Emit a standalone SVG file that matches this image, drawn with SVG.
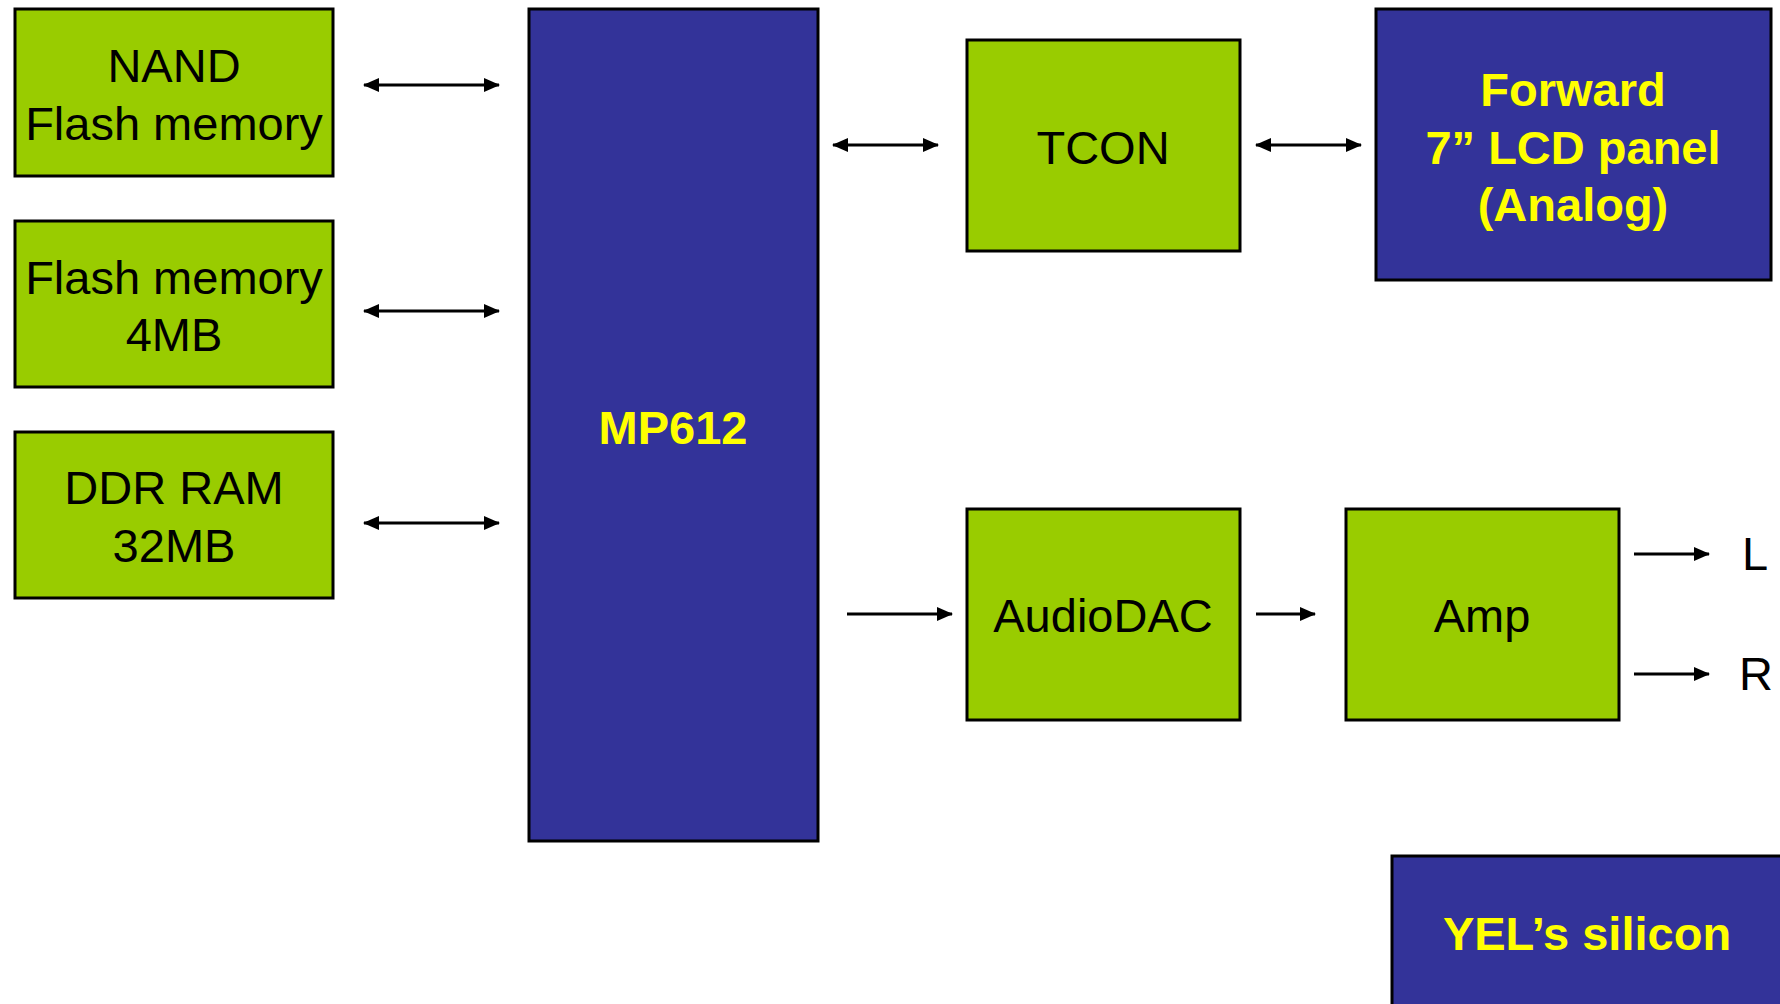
<svg xmlns="http://www.w3.org/2000/svg" width="1780" height="1004" viewBox="0 0 1780 1004">
<style>
.g{fill:#99CC00;stroke:#000;stroke-width:3}
.b{fill:#333399;stroke:#000;stroke-width:3}
.t{font-family:"Liberation Sans",Arial,sans-serif;font-size:47px;fill:#000;text-anchor:middle}
.y{font-family:"Liberation Sans",Arial,sans-serif;font-size:47px;font-weight:bold;fill:#FFFF00;text-anchor:middle}
.c{stroke:#000;stroke-width:3;fill:none}
</style>
<defs>
<marker id="ae" markerUnits="userSpaceOnUse" markerWidth="16" markerHeight="14" refX="15" refY="7" orient="auto"><path d="M0,0 L16,7 L0,14 Z" fill="#000"/></marker>
<marker id="as" markerUnits="userSpaceOnUse" markerWidth="16" markerHeight="14" refX="1" refY="7" orient="auto"><path d="M16,0 L0,7 L16,14 Z" fill="#000"/></marker>
</defs>
<rect width="1780" height="1004" fill="#fff"/>
<g id="nand"><rect class="g" x="15" y="9" width="318" height="167"/><text class="t" x="174" y="82">NAND</text><text class="t" x="174" y="140">Flash memory</text></g>
<g id="flash"><rect class="g" x="15" y="221" width="318" height="166"/><text class="t" x="174" y="294">Flash memory</text><text class="t" x="174" y="351">4MB</text></g>
<g id="ddr"><rect class="g" x="15" y="432" width="318" height="166"/><text class="t" x="174" y="504">DDR RAM</text><text class="t" x="174" y="562">32MB</text></g>
<g id="mp612"><rect class="b" x="529" y="9" width="289" height="832"/><text class="y" x="673" y="444">MP612</text></g>
<g id="tcon"><rect class="g" x="967" y="40" width="273" height="211"/><text class="t" x="1103" y="164">TCON</text></g>
<g id="lcd"><rect class="b" x="1376" y="9" width="395" height="271"/><text class="y" x="1573" y="106">Forward</text><text class="y" x="1573" y="164">7” LCD panel</text><text class="y" x="1573" y="221">(Analog)</text></g>
<g id="dac"><rect class="g" x="967" y="509" width="273" height="211"/><text class="t" x="1103" y="632">AudioDAC</text></g>
<g id="amp"><rect class="g" x="1346" y="509" width="273" height="211"/><text class="t" x="1482" y="632">Amp</text></g>
<g id="yel"><rect class="b" x="1392" y="856" width="400" height="160"/><text class="y" x="1587" y="950">YEL’s silicon</text></g>
<g id="connectors">
<line class="c" x1="364" y1="85" x2="499" y2="85" marker-start="url(#as)" marker-end="url(#ae)"/>
<line class="c" x1="364" y1="311" x2="499" y2="311" marker-start="url(#as)" marker-end="url(#ae)"/>
<line class="c" x1="364" y1="523" x2="499" y2="523" marker-start="url(#as)" marker-end="url(#ae)"/>
<line class="c" x1="833" y1="145" x2="938" y2="145" marker-start="url(#as)" marker-end="url(#ae)"/>
<line class="c" x1="1256" y1="145" x2="1361" y2="145" marker-start="url(#as)" marker-end="url(#ae)"/>
<line class="c" x1="847" y1="614" x2="952" y2="614" marker-end="url(#ae)"/>
<line class="c" x1="1256" y1="614" x2="1315" y2="614" marker-end="url(#ae)"/>
<line class="c" x1="1634" y1="554" x2="1709" y2="554" marker-end="url(#ae)"/>
<line class="c" x1="1634" y1="674" x2="1709" y2="674" marker-end="url(#ae)"/>
</g>
<text class="t" x="1755" y="570">L</text>
<text class="t" x="1756" y="690">R</text>
</svg>
